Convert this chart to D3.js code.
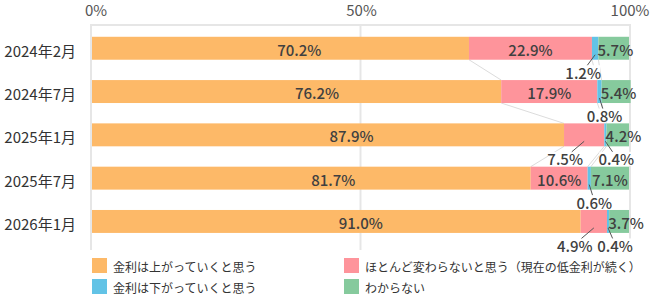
<!DOCTYPE html>
<html lang="ja">
<head>
<meta charset="utf-8">
<title>金利の見通し</title>
<script src="https://cdn.jsdelivr.net/npm/d3@7"></script>
<style>
  body { margin: 0; background: #fff; }
  svg text { font-family: "Noto Sans CJK JP", "Noto Sans", sans-serif; }
</style>
</head>
<body>
<div id="chart"></div>
<script>
// 調査時期
const categories = ["2024年2月", "2024年7月", "2025年1月", "2025年7月", "2026年1月"];
// 回答（%）
const rise    = [70.2, 76.2, 87.9, 81.7, 91.0];
const same    = [22.9, 17.9, 7.5, 10.6, 4.9];
const fall    = [1.2, 0.8, 0.4, 0.6, 0.4];
const unknown = [5.7, 5.4, 4.2, 7.1, 3.7];
const seriesNames = [
  "金利は上がっていくと思う",
  "ほとんど変わらないと思う（現在の低金利が続く）",
  "金利は下がっていくと思う",
  "わからない"
];
const xTicks = [0, 50, 100];

const colors = ["#fdb968", "#fe949b", "#62c3e6", "#86ca9d"];
// ラベルを棒の外に出すもの: [行, 系列, 横ずれ]
const outside = [[0, 2, -12], [1, 2, 5], [2, 1, -19], [2, 2, 11], [3, 2, 5], [4, 1, -19], [4, 2, 7]];

const width = 655, height = 298;
const svg = d3.select("#chart").append("svg")
  .attr("width", width)
  .attr("height", height);

const x = d3.scaleLinear().domain([0, 100]).range([92, 629]);
const y = d3.scaleBand().domain(categories).range([26.6, 243.1]).paddingInner(0.47).paddingOuter(0.235);

const series = [rise, same, fall, unknown];
const rows = categories.map((c, i) => {
  let acc = 0;
  return series.map((s, k) => {
    const seg = { cat: c, row: i, k: k, v: s[i], x0: acc, x1: acc + s[i] };
    acc += s[i];
    return seg;
  });
});
const segs = rows.flat();

// グリッド
const gridTop = 25, gridBottom = 250;
svg.append("line")
  .attr("x1", x(0) - 2).attr("x2", x(100) + 2)
  .attr("y1", gridTop).attr("y2", gridTop)
  .attr("stroke", "#e6e6e6").attr("stroke-width", 2);
svg.selectAll(".grid")
  .data(xTicks)
  .join("line")
  .attr("class", "grid")
  .attr("x1", d => x(d) + (d === 0 ? -1 : d === 100 ? 1 : 0))
  .attr("x2", d => x(d) + (d === 0 ? -1 : d === 100 ? 1 : 0))
  .attr("y1", gridTop).attr("y2", gridBottom)
  .attr("stroke", "#e6e6e6").attr("stroke-width", 2);

svg.selectAll(".tick-label")
  .data(xTicks)
  .join("text")
  .attr("class", "tick-label")
  .attr("x", d => x(d) + (d === 0 ? 4 : 1))
  .attr("y", 16)
  .attr("text-anchor", "middle")
  .attr("font-size", 15)
  .attr("fill", "#555")
  .text(d => d + "%");

// 区分線（上4本の間のみ）
const links = [];
for (let i = 0; i < 3; i++) {
  for (let k = 0; k < 3; k++) {
    links.push({ a: rows[i][k].x1, b: rows[i + 1][k].x1, i: i });
  }
}
svg.selectAll(".series-line")
  .data(links)
  .join("line")
  .attr("class", "series-line")
  .attr("x1", d => x(d.a))
  .attr("y1", d => y(categories[d.i]) + y.bandwidth())
  .attr("x2", d => x(d.b))
  .attr("y2", d => y(categories[d.i + 1]))
  .attr("stroke", "#dcdcdc")
  .attr("stroke-width", 1);

// 棒
svg.selectAll(".bar")
  .data(segs)
  .join("rect")
  .attr("class", "bar")
  .attr("x", d => x(d.x0))
  .attr("y", d => y(d.cat))
  .attr("width", d => x(d.x1) - x(d.x0))
  .attr("height", y.bandwidth())
  .attr("fill", d => colors[d.k]);

// 行ラベル
svg.selectAll(".cat-label")
  .data(categories)
  .join("text")
  .attr("class", "cat-label")
  .attr("x", 76)
  .attr("y", d => y(d) + y.bandwidth() / 2 + 2)
  .attr("dominant-baseline", "central")
  .attr("text-anchor", "end")
  .attr("font-size", 15)
  .attr("fill", "#333")
  .text(d => d);

const isOutside = d => outside.some(o => o[0] === d.row && o[1] === d.k);

// 棒の中のラベル
svg.selectAll(".in-label")
  .data(segs.filter(d => !isOutside(d)))
  .join("text")
  .attr("class", "in-label")
  .attr("x", d => {
    const a = x(d.x0), b = x(d.x1);
    if (d.k === 0) return a + (b - a) * 0.55;
    if (d.k === 3) return Math.max((a + b) / 2, a + 17);
    return (a + b) / 2;
  })
  .attr("y", d => y(d.cat) + y.bandwidth() / 2 + 1)
  .attr("dominant-baseline", "central")
  .attr("text-anchor", "middle")
  .attr("font-size", 15)
  .attr("font-weight", 500)
  .attr("fill", "#404040")
  .text(d => d.v.toFixed(1) + "%");

// 棒の外のラベル
const outs = outside.map(o => {
  const d = rows[o[0]][o[1]];
  const cx = (x(d.x0) + x(d.x1)) / 2;
  const bottom = y(d.cat) + y.bandwidth();
  return { d: d, cx: cx, lx: cx + o[2], ly: bottom + 12.5, bottom: bottom };
});
const og = svg.selectAll(".out-label")
  .data(outs)
  .join("g")
  .attr("class", "out-label");
og.append("rect")
  .attr("x", o => o.lx - 17)
  .attr("y", o => o.ly - 7)
  .attr("width", 34)
  .attr("height", 14)
  .attr("fill", "#fff");
og.append("line")
  .attr("x1", o => o.cx)
  .attr("y1", o => o.bottom - 5)
  .attr("x2", o => o.lx + (o.cx - o.lx) * 0.35)
  .attr("y2", o => o.ly - 7)
  .attr("stroke", "#555")
  .attr("stroke-width", 1);
og.append("text")
  .attr("x", o => o.lx)
  .attr("y", o => o.ly)
  .attr("dominant-baseline", "central")
  .attr("text-anchor", "middle")
  .attr("font-size", 15)
  .attr("font-weight", 500)
  .attr("fill", "#404040")
  .text(o => o.d.v.toFixed(1) + "%");

// 凡例
const legend = svg.selectAll(".legend")
  .data(seriesNames)
  .join("g")
  .attr("class", "legend")
  .attr("transform", (d, i) => `translate(${i % 2 === 0 ? 92 : 344},${i < 2 ? 258 : 279})`);
legend.append("rect")
  .attr("width", 15).attr("height", 15)
  .attr("fill", (d, i) => colors[i]);
legend.append("text")
  .attr("x", 21)
  .attr("y", 8)
  .attr("dominant-baseline", "central")
  .attr("font-size", 12)
  .attr("fill", "#333")
  .text(d => d);
</script>
</body>
</html>
